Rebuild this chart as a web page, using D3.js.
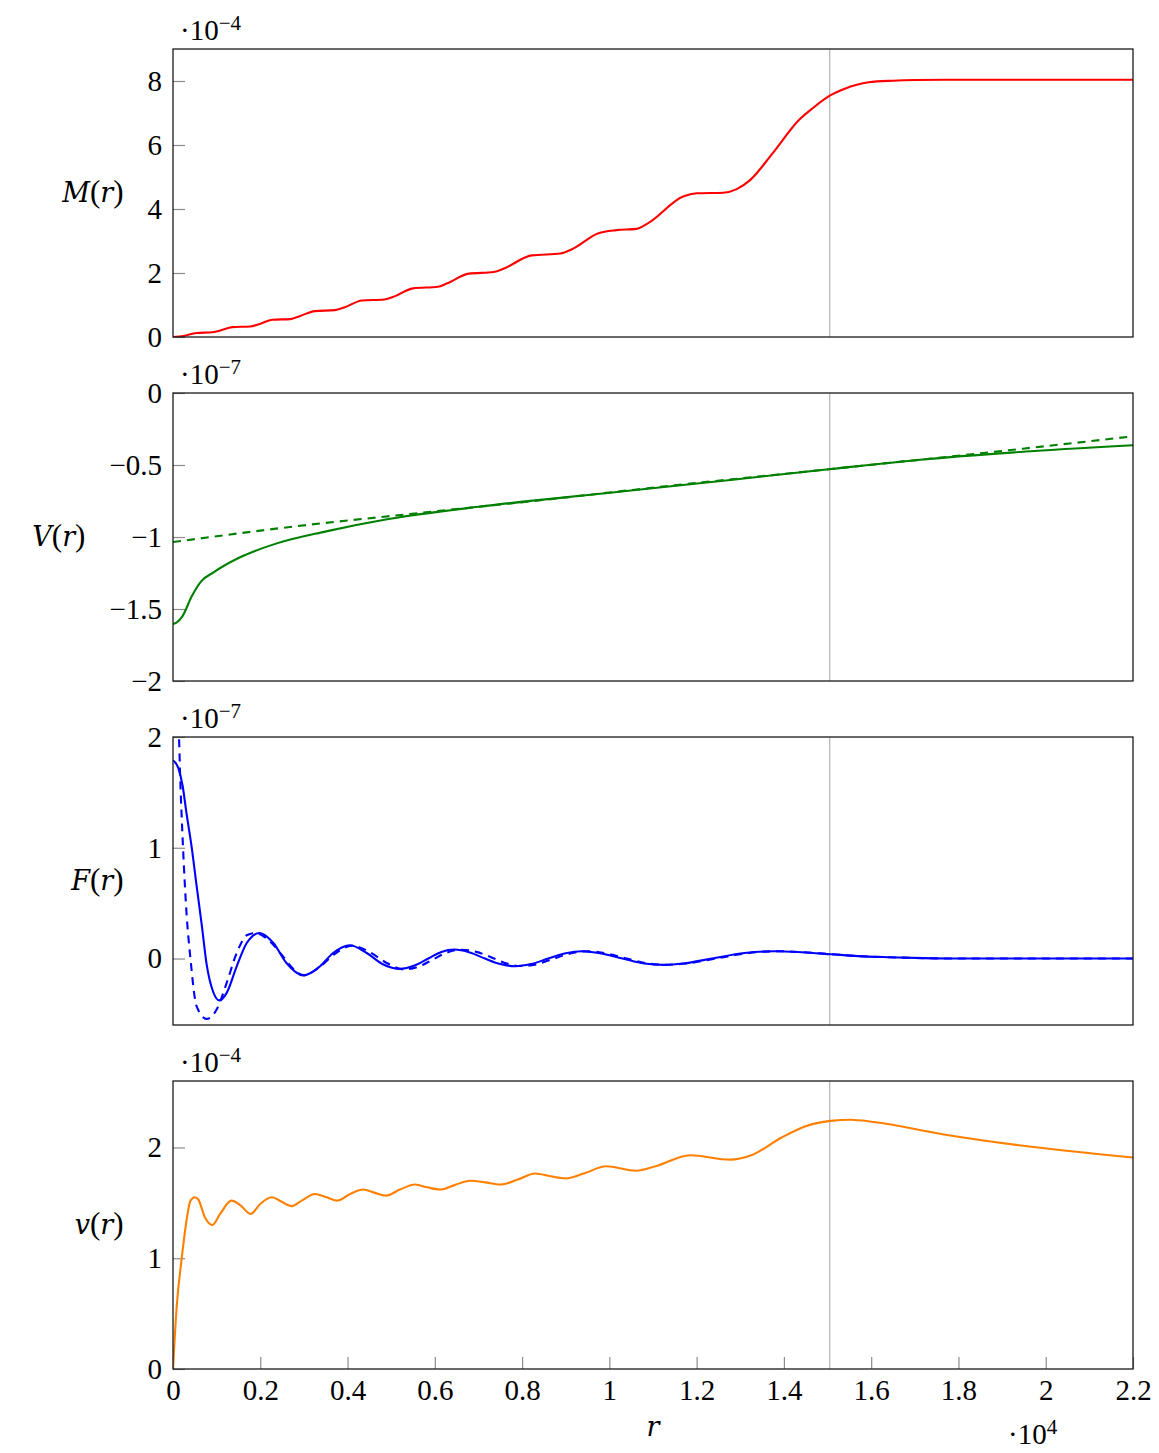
<!DOCTYPE html>
<html>
<head>
<meta charset="utf-8">
<script src="https://cdn.jsdelivr.net/npm/d3@7"></script>
<style>
  body { margin: 0; background: #fff; }
</style>
</head>
<body>
<svg id="chart" width="1159" height="1453"></svg>
<script>
// r in units of 10^4
var xTicks = [0, 0.2, 0.4, 0.6, 0.8, 1, 1.2, 1.4, 1.6, 1.8, 2, 2.2];
var rCut = 1.505;

// M(r), 10^-4
var rM = [0, 0.024, 0.054, 0.09, 0.105, 0.136, 0.177, 0.197, 0.228, 0.269, 0.29, 0.325, 0.371, 0.392, 0.433, 0.484, 0.504, 0.55, 0.607, 0.627, 0.678, 0.735, 0.76, 0.822, 0.888, 0.914, 0.975, 1.016, 1.062, 1.088, 1.169, 1.2, 1.261, 1.292, 1.323, 1.374, 1.435, 1.466, 1.505, 1.538, 1.594, 1.65, 1.7, 1.8, 2.0, 2.2];
var valM = [0, 0.03, 0.125, 0.146, 0.19, 0.31, 0.33, 0.40, 0.54, 0.56, 0.65, 0.81, 0.84, 0.92, 1.14, 1.17, 1.25, 1.52, 1.57, 1.67, 1.98, 2.03, 2.15, 2.55, 2.61, 2.74, 3.24, 3.34, 3.38, 3.55, 4.39, 4.49, 4.51, 4.62, 4.91, 5.74, 6.79, 7.15, 7.54, 7.75, 7.96, 8.01, 8.03, 8.04, 8.04, 8.04];

// V(r), 10^-7
var rV = [0, 0.008, 0.0215, 0.043, 0.0645, 0.093, 0.15, 0.236, 0.351, 0.494, 0.709, 0.996, 1.283, 1.508, 1.713, 1.928, 2.2];
var valV = [-1.604, -1.595, -1.551, -1.412, -1.308, -1.245, -1.146, -1.046, -0.961, -0.875, -0.787, -0.694, -0.602, -0.528, -0.463, -0.412, -0.363];
var rVd = [0, 0.28, 0.566, 0.853, 1.14, 1.508, 1.856, 2.2];
var valVd = [-1.035, -0.926, -0.833, -0.741, -0.644, -0.528, -0.417, -0.301];

// F(r), 10^-7
var rF = [0, 0.012, 0.022, 0.031, 0.043, 0.054, 0.066, 0.077, 0.092, 0.106, 0.123, 0.146, 0.169, 0.198, 0.23, 0.26, 0.299, 0.337, 0.367, 0.405, 0.444, 0.482, 0.52, 0.555, 0.585, 0.615, 0.645, 0.68, 0.715, 0.75, 0.784, 0.82, 0.86, 0.9, 0.936, 0.975, 1.03, 1.08, 1.125, 1.17, 1.235, 1.31, 1.38, 1.44, 1.508, 1.57, 1.64, 1.72, 1.8, 2.0, 2.2];
var valF = [1.79, 1.72, 1.56, 1.31, 1.0, 0.66, 0.3, -0.05, -0.3, -0.378, -0.31, -0.07, 0.14, 0.23, 0.14, -0.04, -0.153, -0.07, 0.05, 0.12, 0.05, -0.054, -0.093, -0.06, 0.0, 0.06, 0.081, 0.055, 0.0, -0.05, -0.069, -0.05, 0.0, 0.048, 0.066, 0.05, 0.0, -0.045, -0.057, -0.045, 0.0, 0.05, 0.066, 0.057, 0.039, 0.022, 0.012, 0.004, 0.0, 0.0, 0.0];
var rFd = [0, 0.008, 0.0138, 0.016, 0.023, 0.031, 0.04, 0.054, 0.077, 0.1, 0.123, 0.146, 0.169, 0.188, 0.215, 0.25, 0.275, 0.3, 0.335, 0.37, 0.41, 0.45, 0.49, 0.53, 0.565, 0.595, 0.625, 0.66, 0.695, 0.73, 0.765, 0.795, 0.83, 0.87, 0.91, 0.945, 0.985, 1.04, 1.09, 1.13, 1.175, 1.245, 1.32, 1.385, 1.445, 1.51, 1.57, 1.64, 1.72, 1.8, 2.0, 2.2];
var valFd = [4.0, 2.6, 2.0, 1.7, 1.0, 0.41, 0.0, -0.43, -0.545, -0.46, -0.22, 0.05, 0.21, 0.23, 0.18, 0.03, -0.09, -0.15, -0.08, 0.04, 0.115, 0.06, -0.04, -0.098, -0.07, -0.01, 0.05, 0.08, 0.06, 0.01, -0.045, -0.068, -0.055, -0.005, 0.045, 0.066, 0.052, 0.0, -0.045, -0.056, -0.045, 0.0, 0.05, 0.066, 0.057, 0.039, 0.022, 0.012, 0.004, 0.0, 0.0, 0.0];

// v(r), 10^-4
var rv = [0, 0.0084, 0.02, 0.031, 0.04, 0.05, 0.058, 0.073, 0.09, 0.108, 0.134, 0.154, 0.178, 0.2, 0.226, 0.249, 0.272, 0.295, 0.325, 0.352, 0.377, 0.406, 0.436, 0.463, 0.488, 0.52, 0.555, 0.583, 0.612, 0.645, 0.68, 0.715, 0.75, 0.79, 0.83, 0.865, 0.9, 0.945, 0.992, 1.062, 1.106, 1.185, 1.277, 1.325, 1.395, 1.448, 1.507, 1.553, 1.606, 1.763, 1.939, 2.2];
var valv = [0, 0.56, 1.0, 1.34, 1.52, 1.55, 1.53, 1.37, 1.30, 1.40, 1.52, 1.48, 1.40, 1.49, 1.55, 1.51, 1.47, 1.52, 1.58, 1.55, 1.52, 1.58, 1.62, 1.59, 1.565, 1.62, 1.665, 1.64, 1.62, 1.66, 1.70, 1.685, 1.665, 1.71, 1.765, 1.74, 1.72, 1.77, 1.83, 1.79, 1.83, 1.93, 1.89, 1.93, 2.09, 2.19, 2.24, 2.25, 2.23, 2.12, 2.02, 1.91];

var panels = [
  { name: 'M', exp: '\u22124', domain: [0, 9], ticks: [0, 2, 4, 6, 8],
    series: [{ r: rM, v: valM, color: '#ff0000', dash: null }] },
  { name: 'V', exp: '\u22127', domain: [-2, 0], ticks: [-2, -1.5, -1, -0.5, 0],
    series: [{ r: rV, v: valV, color: '#008000', dash: null }, { r: rVd, v: valVd, color: '#008000', dash: '8,6' }] },
  { name: 'F', exp: '\u22127', domain: [-0.6, 2], ticks: [0, 1, 2],
    series: [{ r: rF, v: valF, color: '#0000ff', dash: null }, { r: rFd, v: valFd, color: '#0000ff', dash: '8,6' }] },
  { name: 'v', exp: '\u22124', domain: [0, 2.6], ticks: [0, 1, 2],
    series: [{ r: rv, v: valv, color: '#ff8000', dash: null }] }
];

var SERIF = "'Liberation Serif'";
var ITAL = "'DejaVu Serif'";
var left = 173, right = 1133, top0 = 49, ph = 288, step = 344;
var svg = d3.select('#chart');
var x = d3.scaleLinear().domain([0, 2.2]).range([left, right]);
var fmt = function (d) { return String(d).replace('-', '\u2212'); };

// math-like label: italic letters, upright brackets
function mathLabel(sel, letter) {
  sel.append('tspan').style('font-family', ITAL).style('font-style', 'italic').attr('font-size', 27).text(letter);
  sel.append('tspan').style('font-family', SERIF).text('(');
  sel.append('tspan').style('font-family', ITAL).style('font-style', 'italic').attr('font-size', 27).text('r');
  sel.append('tspan').style('font-family', SERIF).text(')');
}

function expLabel(sel, sup) {
  sel.style('font-family', SERIF).attr('font-size', 29);
  sel.append('tspan').text('\u00b710');
  sel.append('tspan').attr('font-size', 21).attr('dy', -10).text(sup);
}

panels.forEach(function (p, i) {
  var top = top0 + i * step, bottom = top + ph;
  var y = d3.scaleLinear().domain(p.domain).range([bottom, top]);
  var g = svg.append('g');

  g.append('clipPath').attr('id', 'clip' + i)
    .append('rect').attr('x', left).attr('y', top).attr('width', right - left).attr('height', ph);

  // vertical marker
  g.append('line')
    .attr('x1', x(rCut)).attr('x2', x(rCut))
    .attr('y1', top).attr('y2', bottom)
    .attr('stroke', '#b3b3b3').attr('stroke-width', 1.2);

  // y axis
  var ya = g.append('g').attr('transform', 'translate(' + left + ',0)')
    .call(d3.axisLeft(y).tickValues(p.ticks).tickSize(-12).tickPadding(11).tickFormat(fmt));
  ya.select('.domain').remove();
  ya.selectAll('line').attr('stroke', '#8c8c8c').attr('stroke-width', 1.2);
  ya.selectAll('text').style('font-family', SERIF).attr('font-size', 29).attr('fill', '#000');

  if (i === panels.length - 1) {
    var xa = g.append('g').attr('transform', 'translate(0,' + bottom + ')')
      .call(d3.axisBottom(x).tickValues(xTicks).tickSize(-12).tickPadding(10).tickFormat(fmt));
    xa.select('.domain').remove();
    xa.selectAll('line').attr('stroke', '#8c8c8c').attr('stroke-width', 1.2);
    xa.selectAll('text').style('font-family', SERIF).attr('font-size', 29).attr('fill', '#000');
  }

  // curves
  var line = d3.line()
    .x(function (d) { return x(d[0]); })
    .y(function (d) { return y(d[1]); })
    .curve(d3.curveMonotoneX);
  p.series.forEach(function (s) {
    var pts = s.r.map(function (r, k) { return [r, s.v[k]]; });
    g.append('path').datum(pts)
      .attr('clip-path', 'url(#clip' + i + ')')
      .attr('d', line)
      .attr('fill', 'none')
      .attr('stroke', s.color)
      .attr('stroke-width', 2.1)
      .attr('stroke-dasharray', s.dash);
  });

  // frame
  g.append('rect')
    .attr('x', left).attr('y', top).attr('width', right - left).attr('height', ph)
    .attr('fill', 'none').attr('stroke', '#1a1a1a').attr('stroke-width', 1.3);

  // exponent label
  expLabel(g.append('text').attr('x', 180).attr('y', top - 9), p.exp);

  // y label, left of widest tick label
  var minX = d3.min(ya.selectAll('text').nodes(), function (n) { return n.getBBox().x; });
  var yl = g.append('text')
    .attr('x', left + minX - 24).attr('y', top + ph / 2 + 9)
    .attr('text-anchor', 'end').attr('font-size', 31).style('font-family', SERIF);
  mathLabel(yl, p.name);
});

// x label and exponent
svg.append('text').attr('x', (left + right) / 2).attr('y', 1436)
  .attr('text-anchor', 'middle').attr('font-size', 27)
  .style('font-family', ITAL).style('font-style', 'italic').text('r');
expLabel(svg.append('text').attr('x', 1008).attr('y', 1444), '4');
</script>
</body>
</html>
